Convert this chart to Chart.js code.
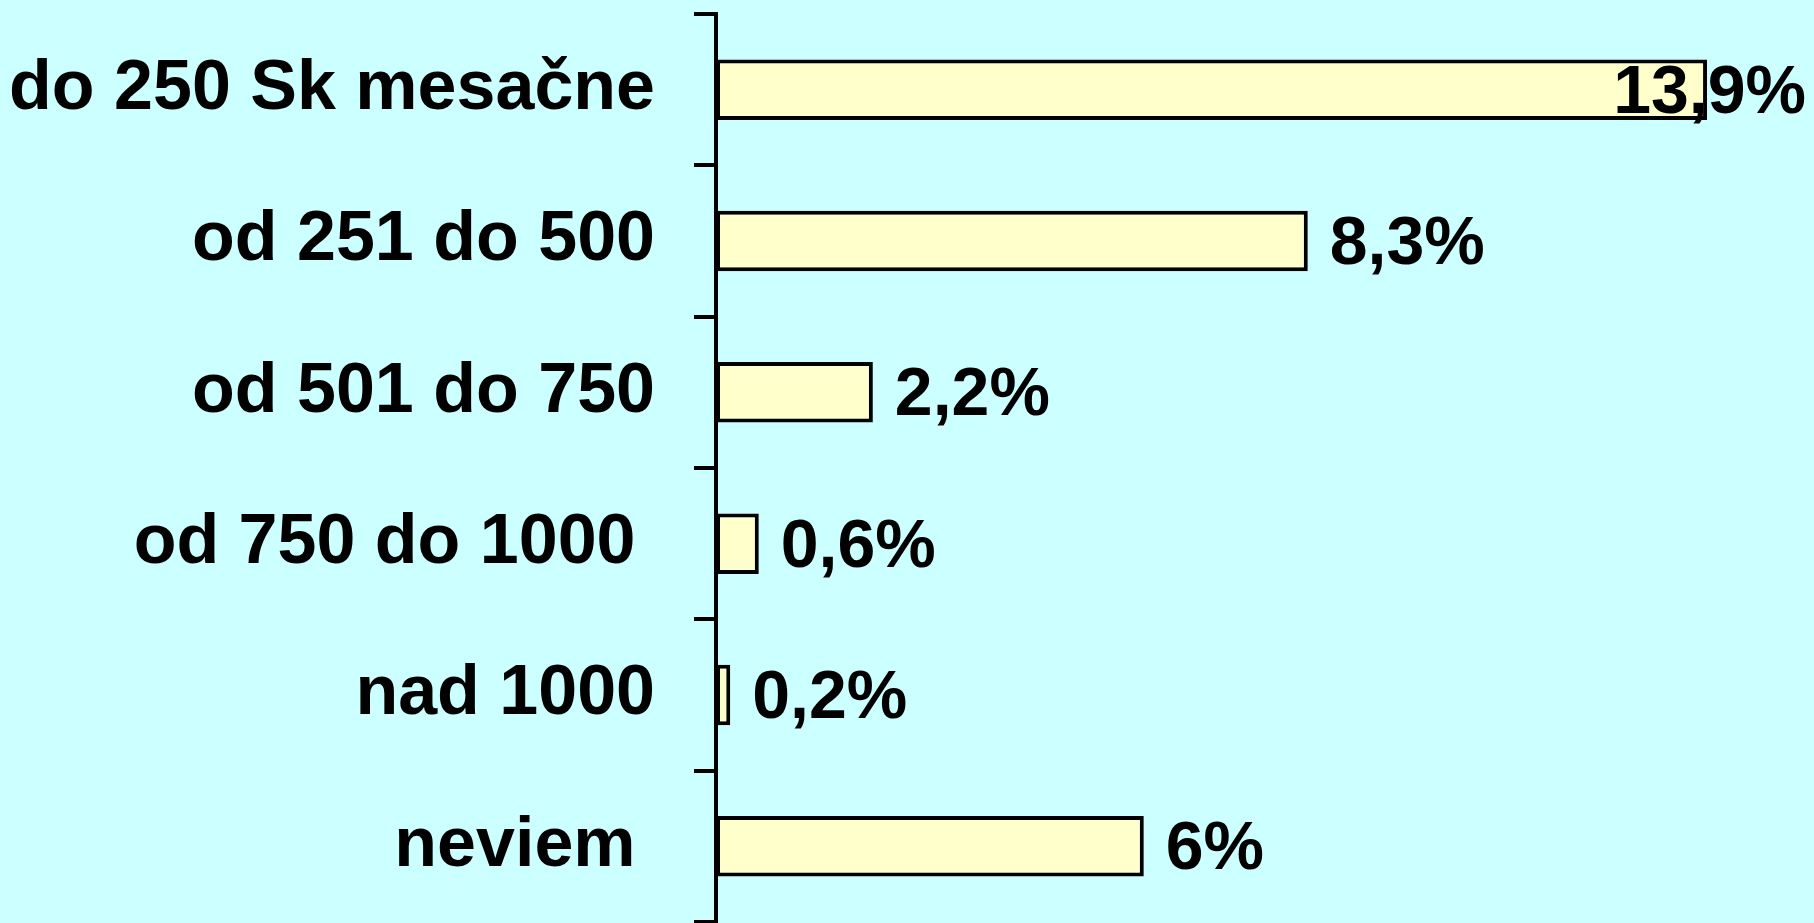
<!DOCTYPE html>
<html>
<head>
<meta charset="utf-8">
<script src="https://cdn.jsdelivr.net/npm/chart.js@4/dist/chart.umd.min.js"></script>
<style>
  html, body { margin: 0; padding: 0; background: #CCFFFF; overflow: hidden; }
  #wrap { width: 1814px; height: 923px; }
</style>
</head>
<body>
<div id="wrap"><canvas id="chart" width="1814" height="923"></canvas></div>
<script>
// category labels (trailing spaces are in the original)
const categories = ['do 250 Sk mesačne', 'od 251 do 500', 'od 501 do 750', 'od 750 do 1000 ', 'nad 1000', 'neviem '];
const values = [13.9, 8.3, 2.2, 0.6, 0.2, 6];

const FONT_FAMILY = '"Liberation Sans", Arial, sans-serif';

function fmtValue(v) {
    return (Number.isInteger(v) ? String(v) : v.toFixed(1).replace('.', ',')) + '%';
}

// draws the percent labels after each bar
const valueLabels = {
    id: 'valueLabels',
    afterDatasetsDraw(chart) {
        const ctx = chart.ctx;
        const meta = chart.getDatasetMeta(0);
        ctx.save();
        ctx.font = 'bold 68px ' + FONT_FAMILY;
        ctx.fillStyle = '#000';
        ctx.textAlign = 'left';
        ctx.textBaseline = 'alphabetic';
        meta.data.forEach((bar, i) => {
            const txt = fmtValue(values[i]);
            const w = ctx.measureText(txt).width;
            let x = bar.x + 22;
            if (x + w > chart.width - 8) x = chart.width - 8 - w; // keep inside the canvas
            ctx.fillText(txt, x, bar.y + 23);
        });
        ctx.restore();
    }
};

const ctx = document.getElementById('chart').getContext('2d');
new Chart(ctx, {
    type: 'bar',
    data: {
        labels: categories,
        datasets: [{
            data: values,
            backgroundColor: '#FFFFCC',
            borderColor: '#000',
            borderWidth: 4,
            borderSkipped: false,
            barPercentage: 0.4,
            categoryPercentage: 1
        }]
    },
    options: {
        indexAxis: 'y',
        responsive: false,
        animation: false,
        layout: { padding: { top: 14, bottom: 1, left: 0, right: 0 } },
        scales: {
            x: {
                display: false,
                min: 0,
                max: 15.4
            },
            y: {
                afterFit: (scale) => {
                    scale.width = 716;
                    scale.paddingTop = 0;
                    scale.paddingBottom = 0;
                },
                grid: {
                    drawOnChartArea: false,
                    offset: true,
                    tickLength: 22,
                    color: '#000',
                    lineWidth: 4
                },
                border: { color: '#000', width: 4 },
                ticks: {
                    color: '#000',
                    padding: 39,
                    font: { family: FONT_FAMILY, size: 70, weight: 'bold' }
                }
            }
        },
        plugins: {
            legend: { display: false },
            tooltip: { enabled: false }
        }
    },
    plugins: [valueLabels]
});
</script>
</body>
</html>
